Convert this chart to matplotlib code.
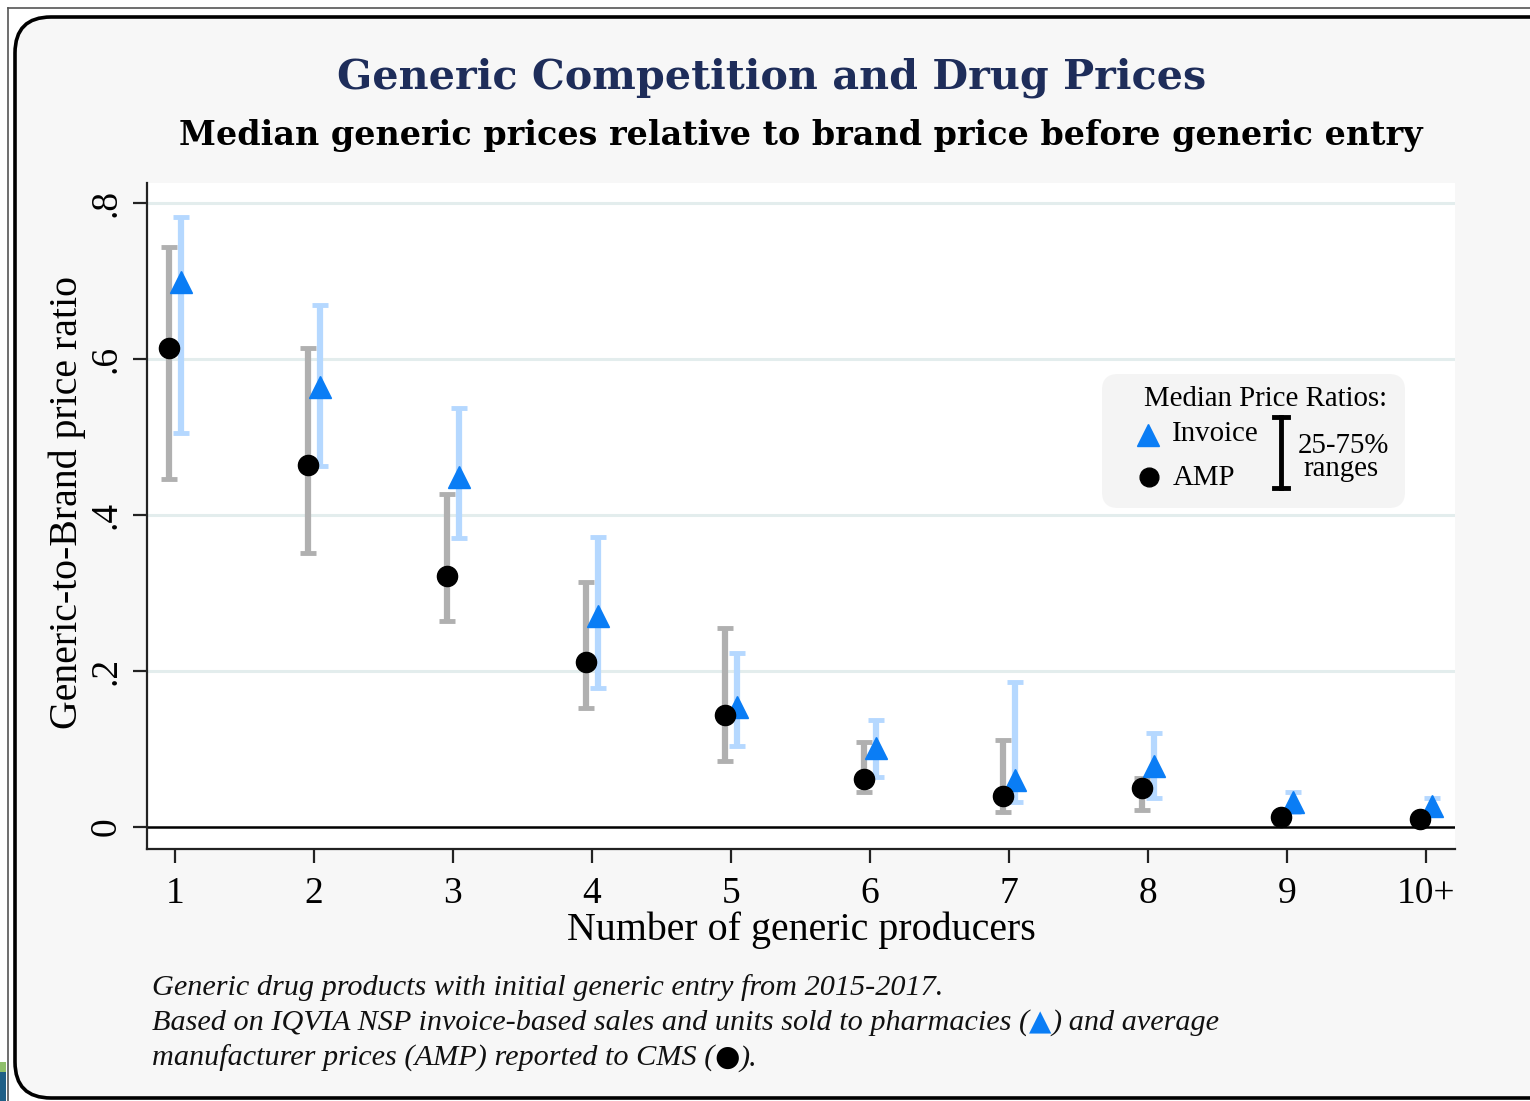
import numpy as np
import matplotlib
matplotlib.use("Agg")
import matplotlib.pyplot as plt
from matplotlib.patches import FancyBboxPatch, Rectangle

W, H = 1530, 1101

producers = ["1", "2", "3", "4", "5", "6", "7", "8", "9", "10+"]

# AMP (average manufacturer price) ratios: median and 25-75% range
amp_med = [0.614, 0.465, 0.322, 0.212, 0.144, 0.062, 0.040, 0.050, 0.013, 0.010]
amp_p25 = [0.447, 0.351, 0.264, 0.153, 0.085, 0.045, 0.020, 0.022, 0.005, 0.005]
amp_p75 = [0.744, 0.615, 0.427, 0.314, 0.255, 0.109, 0.112, 0.063, 0.020, 0.015]

# IQVIA invoice ratios: median and 25-75% range
inv_med = [0.699, 0.564, 0.449, 0.271, 0.154, 0.101, 0.060, 0.079, 0.032, 0.027]
inv_p25 = [0.506, 0.463, 0.371, 0.178, 0.104, 0.064, 0.032, 0.038, 0.020, 0.018]
inv_p75 = [0.782, 0.669, 0.538, 0.372, 0.223, 0.137, 0.186, 0.121, 0.045, 0.038]

yticks = [0, 0.2, 0.4, 0.6, 0.8]
ytick_labels = ["0", ".2", ".4", ".6", ".8"]

C_TITLE = "#1e2d5a"
C_AMP_BAR = "#b0b0b0"
C_INV_BAR = "#b5d8ff"
C_INV = "#0a7df5"
C_GRID = "#e3eded"
C_PANEL = "#f7f7f7"

SERIF = ["Liberation Serif", "DejaVu Serif"]
TITLE_FONT = ["DejaVu Serif"]

fig = plt.figure(figsize=(W / 100, H / 100), dpi=100, facecolor="white")

# background layer in pixel coordinates (y grows downward)
bg = fig.add_axes([0, 0, 1, 1], zorder=0)
bg.set_xlim(0, W)
bg.set_ylim(H, 0)
bg.axis("off")

bg.plot([8, W], [8, 8], color="#555555", lw=1.2)
bg.plot([8, 8], [8, H], color="#555555", lw=1.2)
bg.add_patch(Rectangle((0, 1062), 6, 10, color="#8fbf6a", lw=0))
bg.add_patch(Rectangle((0, 1072), 6, 29, color="#1f5f86", lw=0))
bg.add_patch(FancyBboxPatch((15, 17), 1560, 1081,
                            boxstyle="round,pad=0,rounding_size=36",
                            facecolor=C_PANEL, edgecolor="black", lw=2.6))

bg.text(772, 78, "Generic Competition and Drug Prices", ha="center", va="center",
        fontsize=29.7, fontweight="bold", color=C_TITLE, family=TITLE_FONT)
bg.text(801, 135, "Median generic prices relative to brand price before generic entry",
        ha="center", va="center", fontsize=24, fontweight="bold", color="black",
        family=TITLE_FONT)

# footnote, with coloured marker glyphs chained after the text
FS_NOTE = 21.8
fn = dict(fontsize=FS_NOTE, style="italic", family=SERIF, color="#111111", va="baseline")
bg.text(152, 995, "Generic drug products with initial generic entry from 2015-2017.", **fn)
t = bg.text(152, 1030, "Based on IQVIA NSP invoice-based sales and units sold to pharmacies (", **fn)
t = bg.annotate("▲", xy=(1, 0), xycoords=t, va="bottom", fontsize=21,
                color=C_INV, family=["DejaVu Sans"])
bg.annotate(") and average", xy=(1, 0), xycoords=t, va="bottom", fontsize=FS_NOTE,
            style="italic", family=SERIF, color="#111111")
t = bg.text(152, 1066, "manufacturer prices (AMP) reported to CMS (", **fn)
t = bg.annotate("●", xy=(1, 0), xycoords=t, va="bottom", fontsize=21,
                color="black", family=["DejaVu Sans"])
bg.annotate(").", xy=(1, 0), xycoords=t, va="bottom", fontsize=FS_NOTE,
            style="italic", family=SERIF, color="#111111")

# main plot area
ax = fig.add_axes([147 / W, 1 - 849 / H, (1455 - 147) / W, (849 - 183) / H], zorder=1)
ax.set_facecolor("white")
x = np.arange(len(producers)) + 1
dx = 0.043

amp_err = [np.subtract(amp_med, amp_p25), np.subtract(amp_p75, amp_med)]
inv_err = [np.subtract(inv_med, inv_p25), np.subtract(inv_p75, inv_med)]

ax.errorbar(x - dx, amp_med, yerr=amp_err, fmt="none", ecolor=C_AMP_BAR,
            elinewidth=4.5, capsize=5.5, capthick=3.5, zorder=2)
ax.errorbar(x + dx, inv_med, yerr=inv_err, fmt="none", ecolor=C_INV_BAR,
            elinewidth=4.5, capsize=5.5, capthick=3.5, zorder=2)
ax.plot(x - dx, amp_med, "o", color="black", ms=14.5, lw=0, zorder=4)
ax.plot(x + dx, inv_med, "^", color=C_INV, ms=16, lw=0, zorder=3)

ax.axhline(0, color="black", lw=1.8, zorder=1)
for yv in yticks[1:]:
    ax.axhline(yv, color=C_GRID, lw=2.2, zorder=0)

ax.set_xlim(0.80, 10.21)
ax.set_ylim(-0.028, 0.826)
ax.set_xticks(x)
ax.set_xticklabels(producers, family=SERIF, fontsize=27)
ax.set_yticks(yticks)
ax.set_yticklabels(ytick_labels, family=SERIF, fontsize=27, rotation=90, va="center")
ax.tick_params(axis="both", length=10, width=1.6, color="#222222")
ax.tick_params(axis="x", pad=10)
ax.tick_params(axis="y", pad=7)
for side in ("top", "right"):
    ax.spines[side].set_visible(False)
for side in ("left", "bottom"):
    ax.spines[side].set_linewidth(1.6)
    ax.spines[side].set_color("#222222")

ax.set_xlabel("Number of generic producers", family=SERIF, fontsize=28.8, labelpad=0)
ax.set_ylabel("Generic-to-Brand price ratio", family=SERIF, fontsize=28.6, va="center")
ax.yaxis.set_label_coords(-0.061, 0.52)

# legend drawn as a small rounded panel in pixel coordinates
lg = fig.add_axes([0, 0, 1, 1], zorder=2)
lg.set_xlim(0, W)
lg.set_ylim(H, 0)
lg.axis("off")
lg.add_patch(FancyBboxPatch((1102, 374), 303, 134, boxstyle="round,pad=0,rounding_size=16",
                            facecolor="#f4f4f4", edgecolor="none"))
FS_LEG = 20.8
lg.text(1266, 399, "Median Price Ratios:", ha="center", va="center", fontsize=FS_LEG, family=SERIF)
lg.plot([1148], [435], "^", color=C_INV, ms=16)
lg.text(1172, 434, "Invoice", ha="left", va="center", fontsize=FS_LEG, family=SERIF)
lg.plot([1149], [477], "o", color="black", ms=13.5)
lg.text(1173, 478, "AMP", ha="left", va="center", fontsize=FS_LEG, family=SERIF)
lg.plot([1281, 1281], [417, 488], color="black", lw=3.5)
lg.plot([1274, 1288], [417, 417], color="black", lw=3.5)
lg.plot([1274, 1288], [488, 488], color="black", lw=3.5)
lg.text(1343, 446, "25-75%", ha="center", va="center", fontsize=FS_LEG, family=SERIF)
lg.text(1341, 469, "ranges", ha="center", va="center", fontsize=FS_LEG, family=SERIF)

fig.savefig("out.png", dpi=100, facecolor="white")
